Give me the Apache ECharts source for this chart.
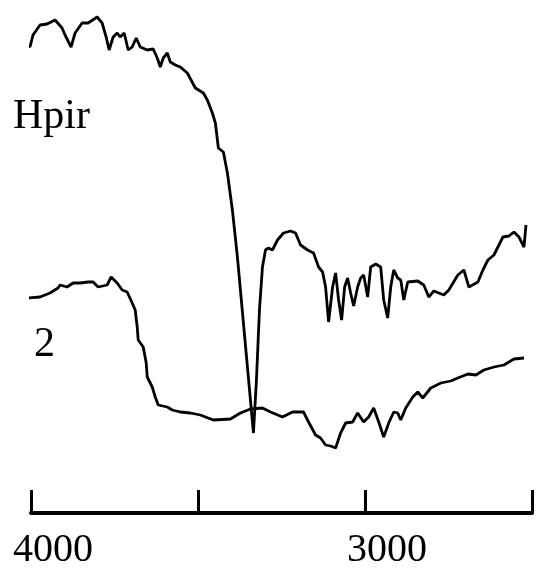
<!DOCTYPE html>
<html>
<head>
<meta charset="utf-8">
<script src="https://cdn.jsdelivr.net/npm/echarts@6/dist/echarts.min.js"></script>
<style>
  html, body { margin: 0; padding: 0; background: #fff; }
  #chart { width: 556px; height: 588px; }
</style>
</head>
<body>
<div id="chart"></div>
<script>
// wavenumbers (cm-1) and relative transmittance
const hpirWave = [4018, 4003, 3994, 3973, 3952, 3928, 3907, 3898, 3880, 3868, 3847, 3829, 3802, 3787, 3775, 3766,
  3754, 3742, 3733, 3721, 3709, 3697, 3685, 3673, 3652, 3634, 3622, 3613, 3604, 3592, 3583, 3568, 3553, 3532,
  3508, 3484, 3472, 3457, 3448, 3439, 3424, 3412, 3397, 3382, 3334, 3325, 3316, 3307, 3298, 3289, 3277, 3262,
  3244, 3223, 3208, 3193, 3172, 3154, 3139, 3127, 3118, 3109, 3097, 3088, 3079, 3070, 3061, 3052, 3043, 3034,
  3022, 3013, 3004, 2992, 2983, 2968, 2953, 2944, 2932, 2923, 2914, 2902, 2893, 2884, 2872, 2842, 2824, 2809,
  2794, 2764, 2749, 2722, 2704, 2689, 2662, 2647, 2632, 2614, 2587, 2569, 2554, 2539, 2524, 2518]
const hpirT = [94.0, 93.2, 95.6, 97.6, 97.8, 98.6, 97.0, 95.6, 93.2, 96.0, 98.0, 98.0, 99.2, 98.0, 95.2, 92.6,
  95.2, 96.0, 95.2, 96.0, 92.6, 93.2, 95.0, 93.2, 92.6, 92.8, 91.0, 89.2, 91.0, 92.0, 90.2, 89.6, 89.2, 88.0,
  85.0, 84.0, 82.6, 80.0, 78.0, 73.0, 72.2, 68.0, 60.6, 51.2, 16.0, 26.6, 40.6, 49.2, 52.6, 53.0, 52.6, 54.6,
  56.0, 56.4, 56.0, 53.6, 52.6, 52.0, 49.2, 48.2, 45.2, 38.2, 45.2, 48.0, 42.6, 38.6, 45.2, 47.0, 44.0, 41.4,
  45.2, 47.0, 47.6, 43.2, 49.2, 49.8, 49.2, 42.6, 39.0, 45.2, 48.6, 47.0, 46.6, 42.6, 46.2, 46.4, 45.6, 43.2,
  44.4, 43.6, 44.6, 47.6, 48.6, 45.2, 46.2, 48.6, 50.6, 51.6, 55.2, 55.4, 56.2, 55.2, 53.2, 57.6]

const c2Wave = [4015, 3973, 3943, 3919, 3913, 3892, 3874, 3853, 3829, 3814, 3799, 3772, 3760, 3742, 3727, 3712,
  3697, 3688, 3682, 3679, 3664, 3655, 3652, 3637, 3628, 3619, 3592, 3577, 3553, 3523, 3493, 3454, 3403, 3373,
  3343, 3307, 3283, 3247, 3217, 3184, 3169, 3148, 3133, 3118, 3103, 3088, 3073, 3058, 3037, 3022, 3004, 2989,
  2974, 2959, 2944, 2929, 2914, 2902, 2893, 2878, 2857, 2842, 2827, 2803, 2773, 2743, 2722, 2692, 2668, 2644,
  2614, 2584, 2554, 2524]
const c2T = [43.0, 43.2, 44.0, 45.0, 45.6, 45.2, 46.0, 46.0, 46.2, 46.2, 45.2, 45.6, 47.2, 46.0, 44.6, 44.2,
  42.0, 40.6, 37.2, 34.6, 33.2, 30.0, 27.2, 25.2, 23.2, 21.6, 21.2, 20.6, 20.2, 20.0, 19.6, 18.6, 18.8, 20.0,
  20.8, 21.0, 20.2, 19.2, 20.2, 20.2, 18.2, 15.6, 15.0, 13.6, 13.4, 13.0, 16.0, 18.0, 18.2, 20.0, 18.2, 19.2,
  21.0, 18.2, 15.2, 18.0, 20.2, 20.0, 18.6, 21.0, 23.2, 24.2, 23.0, 25.0, 26.0, 26.4, 27.0, 27.8, 27.6, 28.6,
  29.2, 29.6, 30.8, 31.0]

const tickLabels = ['4000', '3000']
const seriesNames = ['Hpir', '2']

const zip = (xs, ys) => xs.map((x, i) => [x, ys[i]])

const chart = echarts.init(document.getElementById('chart'), null, { renderer: 'canvas' })

const lineStyle = { color: '#000', width: 2.8 }

chart.setOption({
  animation: false,
  backgroundColor: '#fff',
  grid: { left: 31, right: 24, top: 13, bottom: 75 },
  xAxis: {
    type: 'value',
    inverse: true,
    min: 2500,
    max: 4000,
    interval: 500,
    axisLine: { lineStyle: { color: '#000', width: 4 } },
    axisTick: { inside: true, length: 23, lineStyle: { color: '#000', width: 3 } },
    splitLine: { show: false },
    axisLabel: {
      margin: 17,
      color: '#000',
      fontFamily: 'Liberation Serif',
      fontSize: 40,
      padding: [0, 0, 0, 44],
      showMinLabel: true,
      showMaxLabel: true,
      formatter: v => tickLabels.includes(String(v)) ? String(v) : ''
    }
  },
  yAxis: {
    type: 'value',
    min: 0,
    max: 100,
    show: false
  },
  graphic: [
    { type: 'text', left: 13, top: 96, style: { text: seriesNames[0], font: '42px "Liberation Serif"', fill: '#000' } },
    { type: 'text', left: 34, top: 324, style: { text: seriesNames[1], font: '42px "Liberation Serif"', fill: '#000' } }
  ],
  series: [
    {
      name: seriesNames[0],
      type: 'line',
      data: zip(hpirWave, hpirT),
      showSymbol: false,
      clip: false,
      lineStyle: lineStyle
    },
    {
      name: seriesNames[1],
      type: 'line',
      data: zip(c2Wave, c2T),
      showSymbol: false,
      clip: false,
      lineStyle: lineStyle
    }
  ]
})
</script>
</body>
</html>
